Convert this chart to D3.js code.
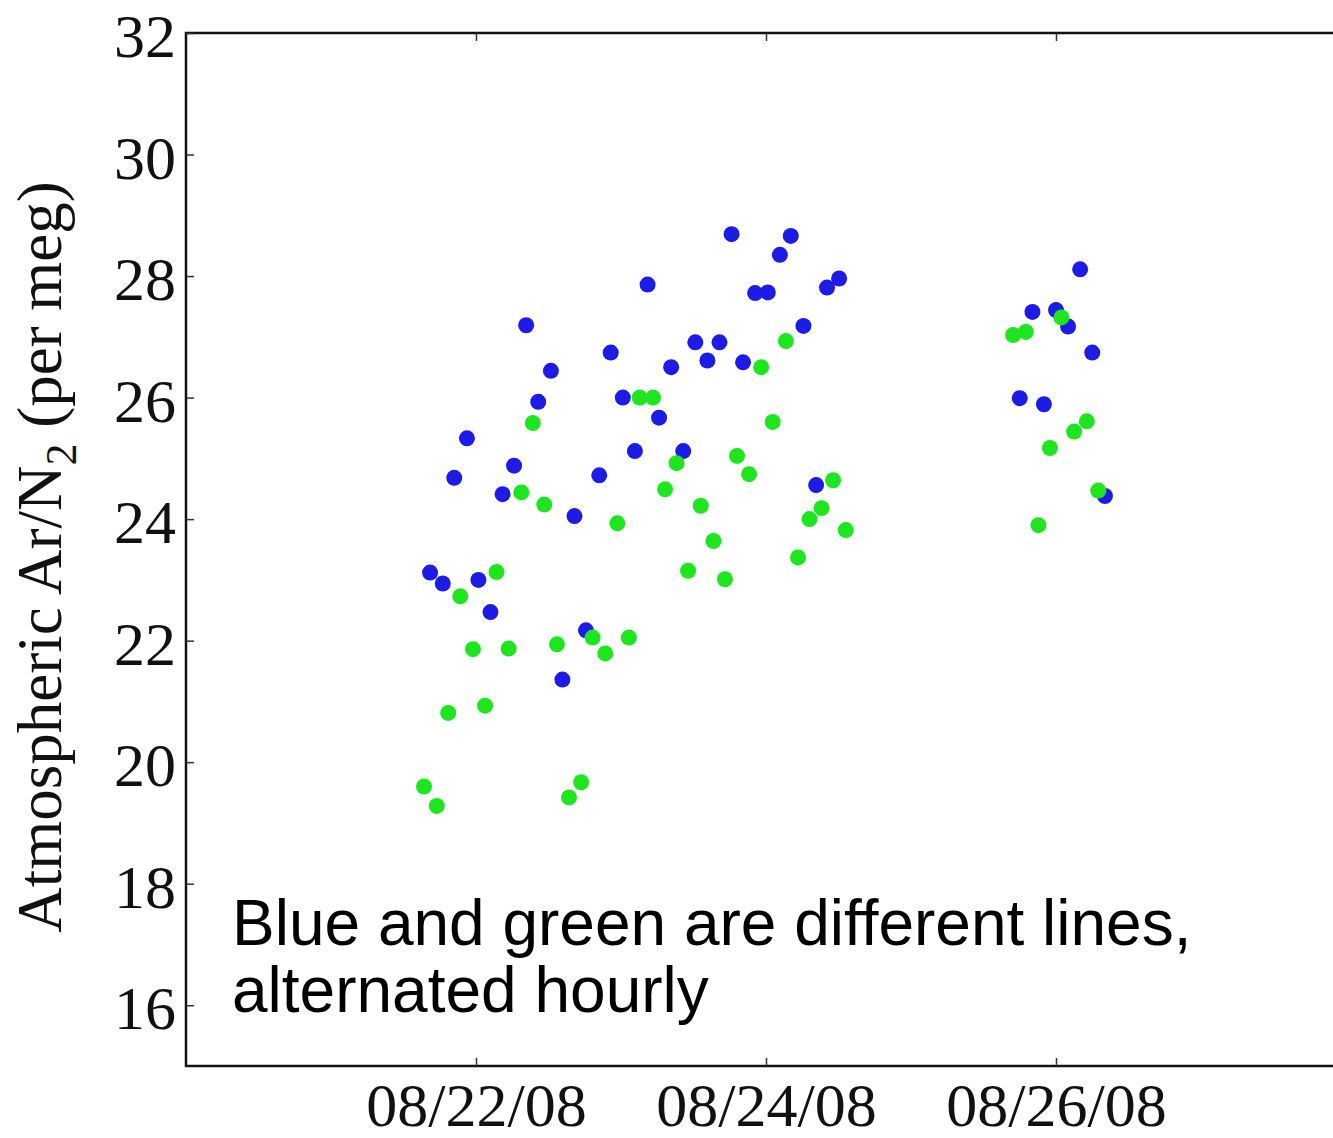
<!DOCTYPE html>
<html>
<head>
<meta charset="utf-8">
<script src="https://cdn.jsdelivr.net/npm/d3@7"></script>
<style>
  html, body { margin: 0; padding: 0; background: #fff; }
  svg { display: block; }
</style>
</head>
<body>
<script>
// ---- Data (hours since 2008-08-20 00:00 UTC, value in per meg) ----
const blueHours = [40.4, 42.5, 44.4, 46.5, 48.4, 50.4, 52.4, 54.3, 56.3, 58.3, 60.4, 62.3, 64.3, 66.2, 68.4, 70.3, 72.3, 74.3, 76.4, 78.3, 80.3, 82.3, 84.3, 86.3, 88.3, 90.3, 92.2, 94.2, 96.3, 98.3, 100.1, 102.2, 104.3, 106.1, 108.1,
                   138.0, 140.1, 142.0, 144.0, 146.0, 148.0, 150.0, 152.1];
const blueValues = [23.12, 22.94, 24.68, 25.33, 23.00, 22.47, 24.41, 24.88, 27.19, 25.93, 26.44, 21.36, 24.05, 22.17, 24.72, 26.74, 26.00, 25.12, 27.86, 25.67, 26.50, 25.12, 26.91, 26.61, 26.91, 28.69, 26.58, 27.72, 27.73, 28.35, 28.66, 27.18, 24.56, 27.81, 27.96,
                    25.99, 27.41, 25.89, 27.44, 27.17, 28.11, 26.74, 24.38];
const greenHours = [39.4, 41.5, 43.4, 45.4, 47.5, 49.5, 51.4, 53.4, 55.5, 57.4, 59.3, 61.4, 63.4, 65.4, 67.3, 69.4, 71.4, 73.3, 75.1, 77.3, 79.3, 81.2, 83.1, 85.2, 87.3, 89.2, 91.2, 93.2, 95.2, 97.1, 99.3, 101.3, 103.2, 105.2, 107.1, 109.2,
                    136.9, 139.0, 141.1, 143.0, 144.9, 147.0, 149.1, 151.0];
const greenValues = [19.60, 19.28, 20.81, 22.73, 21.86, 20.93, 23.13, 21.87, 24.44, 25.58, 24.24, 21.94, 19.42, 19.67, 22.05, 21.79, 23.93, 22.05, 26.00, 26.00, 24.49, 24.92, 23.15, 24.22, 23.64, 23.01, 25.04, 24.74, 26.50, 25.60, 26.93, 23.37, 24.00, 24.18, 24.64, 23.82,
                     27.03, 27.08, 23.90, 25.17, 27.32, 25.44, 25.61, 24.47];
const yTickValues = [16, 18, 20, 22, 24, 26, 28, 30, 32];
const xTickDates = ["2008-08-22", "2008-08-24", "2008-08-26"];
const xTickLabels = ["08/22/08", "08/24/08", "08/26/08"];
const annotationLines = ["Blue and green are different lines,", "alternated hourly"];

// ---- Layout ----
const W = 1333, H = 1138;
const mLeft = 186, mTop = 33, mRight = 1346, mBottom = 1066;
const base = Date.UTC(2008, 7, 20);
const toDate = h => new Date(base + h * 3600 * 1000);

const svg = d3.select("body").append("svg").attr("width", W).attr("height", H);

const x = d3.scaleUtc()
  .domain([new Date(Date.UTC(2008, 7, 20)), new Date(Date.UTC(2008, 7, 28))])
  .range([mLeft, mRight]);
const y = d3.scaleLinear().domain([15, 32]).range([mBottom, mTop]);

const xTicks = xTickDates.map(s => new Date(s + "T00:00:00Z"));
const serif = "'Liberation Serif', 'Times New Roman', serif";

// Frame
svg.append("rect")
  .attr("x", mLeft).attr("y", mTop)
  .attr("width", mRight - mLeft).attr("height", mBottom - mTop)
  .attr("fill", "none").attr("stroke", "#111").attr("stroke-width", 2.5);

// Axes with inward ticks
const tickLen = 8;
const gB = svg.append("g").attr("transform", `translate(0,${mBottom})`)
  .call(d3.axisBottom(x).tickValues(xTicks).tickSize(-tickLen).tickPadding(16)
        .tickFormat((d, i) => xTickLabels[i]));
const gT = svg.append("g").attr("transform", `translate(0,${mTop})`)
  .call(d3.axisTop(x).tickValues(xTicks).tickSize(-tickLen).tickFormat(""));
const gL = svg.append("g").attr("transform", `translate(${mLeft},0)`)
  .call(d3.axisLeft(y).tickValues(yTickValues).tickSize(-tickLen).tickPadding(10));
const gR = svg.append("g").attr("transform", `translate(${mRight},0)`)
  .call(d3.axisRight(y).tickValues(yTickValues).tickSize(-tickLen).tickFormat(""));

[gB, gT, gL, gR].forEach(g => {
  g.select(".domain").remove();
  g.selectAll(".tick line").attr("stroke", "#333").attr("stroke-width", 1.5);
  g.selectAll("text").attr("fill", "#111").attr("font-family", serif).attr("font-size", 62);
});
gB.selectAll(".tick text").attr("dy", "0.71em").attr("font-size", 62);
gL.selectAll(".tick text").attr("dy", "0.38em");

// Points (blue first, green on top)
svg.append("g").selectAll("circle")
  .data(blueHours.map((h, i) => ({ t: toDate(h), v: blueValues[i] })))
  .join("circle")
  .attr("cx", d => x(d.t)).attr("cy", d => y(d.v)).attr("r", 8)
  .attr("fill", "#1c1ce6");

svg.append("g").selectAll("circle")
  .data(greenHours.map((h, i) => ({ t: toDate(h), v: greenValues[i] })))
  .join("circle")
  .attr("cx", d => x(d.t)).attr("cy", d => y(d.v)).attr("r", 8)
  .attr("fill", "#1ee61e");

// Y axis title
const yt = svg.append("text")
  .attr("transform", `translate(61,557) rotate(-90)`)
  .attr("text-anchor", "middle")
  .attr("font-family", serif).attr("font-size", 63).attr("fill", "#111");
yt.append("tspan").text("Atmospheric Ar/N");
yt.append("tspan").attr("font-size", 44).attr("dy", 15).text("2");
yt.append("tspan").attr("dy", -15).text(" (per meg)");

// Annotation
svg.append("g").selectAll("text")
  .data(annotationLines)
  .join("text")
  .attr("x", 232).attr("y", (d, i) => 945 + i * 67)
  .attr("font-family", "'Liberation Sans', Arial, sans-serif")
  .attr("font-size", 64).attr("fill", "#000")
  .text(d => d);
</script>
</body>
</html>
